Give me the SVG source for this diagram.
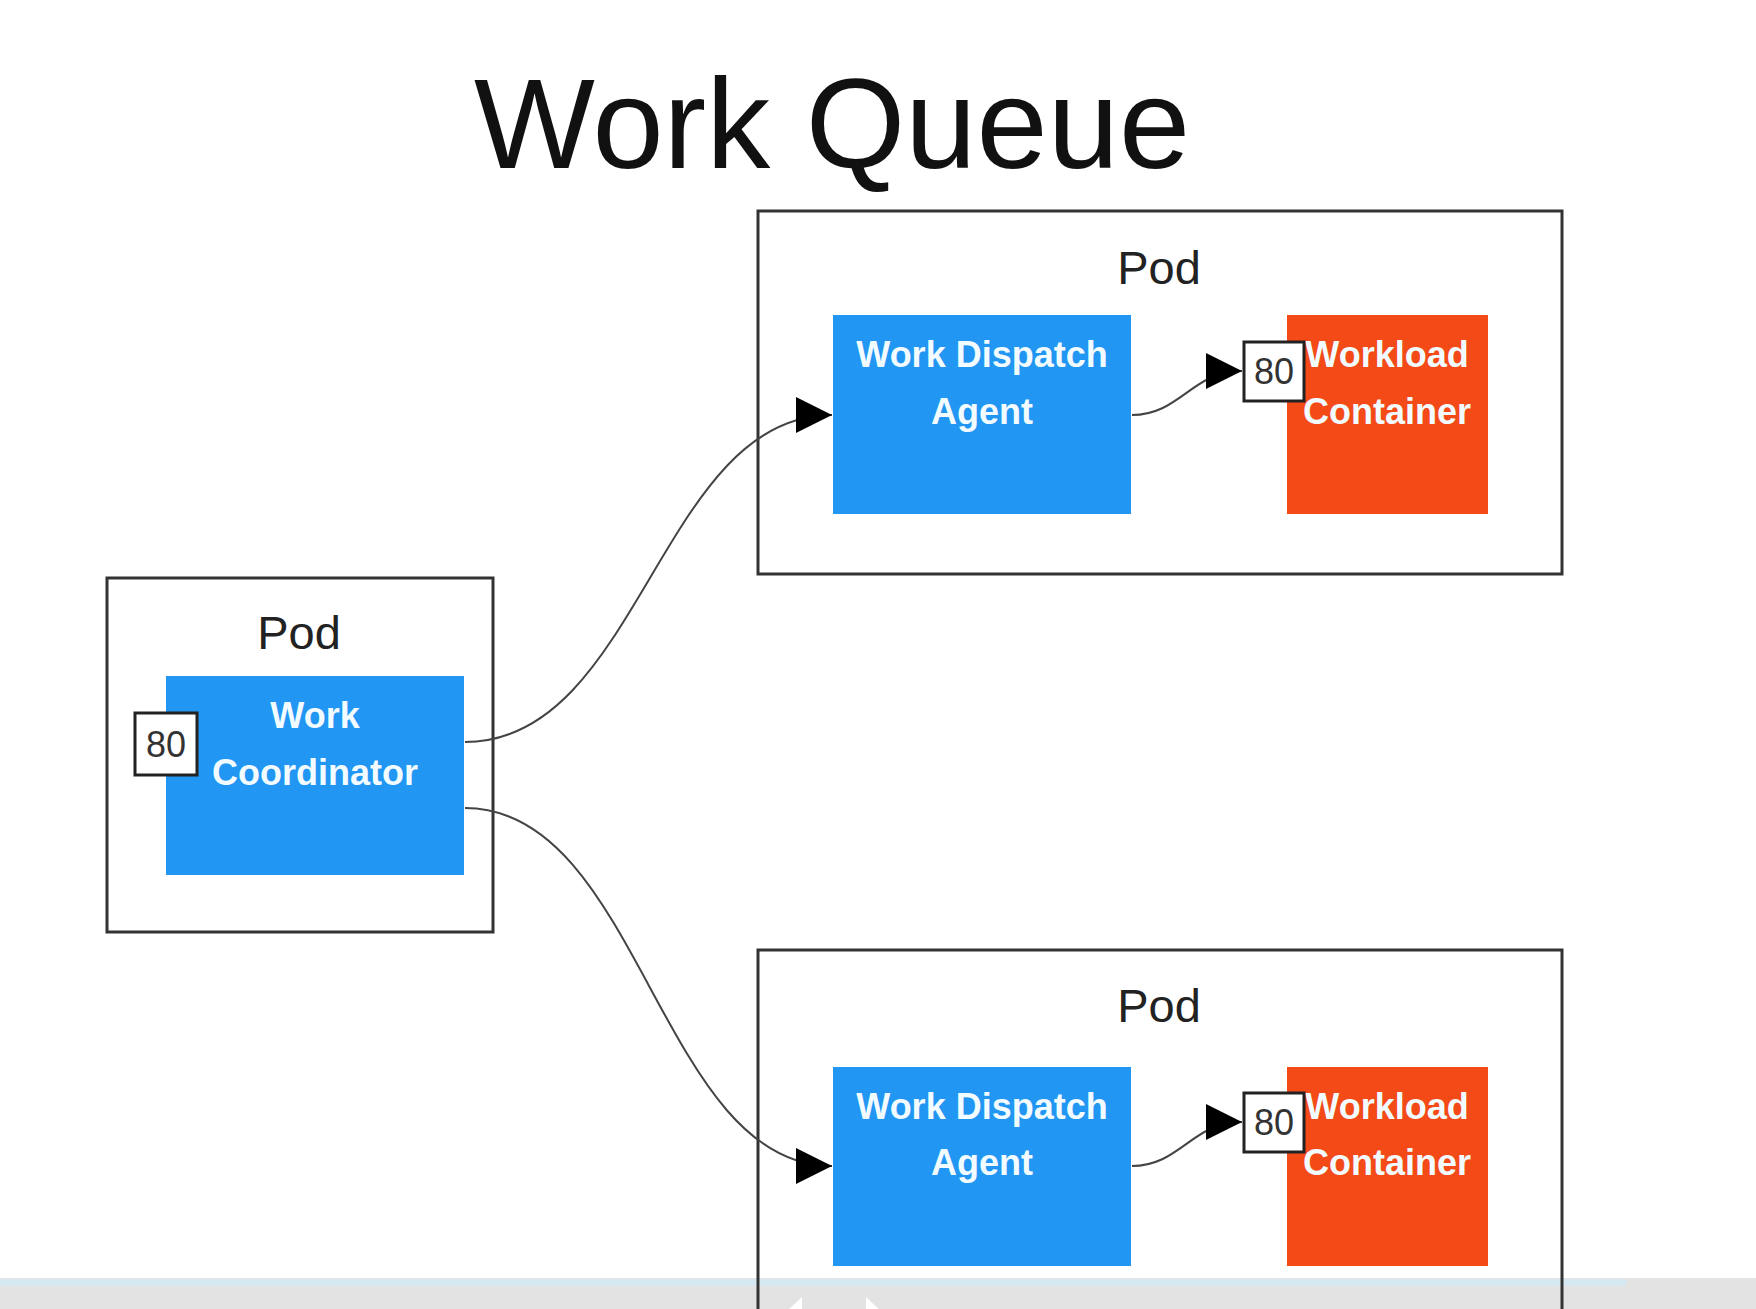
<svg xmlns="http://www.w3.org/2000/svg" width="1756" height="1309" viewBox="0 0 1756 1309">
  <style>
    .pod { fill: none; stroke: #333; stroke-width: 3; }
    .pl { font-family: "Liberation Sans", Arial, sans-serif; font-size: 47px; fill: #222; text-anchor: middle; }
    .blue { fill: #2196F3; }
    .orange { fill: #F44A17; }
    .bt { font-family: "Liberation Sans", Arial, sans-serif; font-weight: bold; font-size: 36px; fill: #f2fbff; text-anchor: middle; }
    .port { fill: #fff; stroke: #222; stroke-width: 3; }
    .pt { font-family: "Liberation Sans", Arial, sans-serif; font-size: 36px; fill: #333; text-anchor: middle; }
    .conn { fill: none; stroke: #444; stroke-width: 2; marker-end: url(#arrow); }
  </style>
  <defs>
    <marker id="arrow" markerUnits="userSpaceOnUse" markerWidth="36" markerHeight="36" refX="36" refY="18" orient="auto">
      <path d="M0,0 L36,18 L0,36 z" fill="#000"/>
    </marker>
  </defs>
  <rect x="0" y="0" width="1756" height="1309" fill="#fff"/>
  <g id="bottom-bar">
    <rect x="0" y="1278" width="1756" height="31" fill="#e3e3e3"/>
    <rect x="0" y="1279" width="1626" height="7" fill="#d6e9f2"/>
    <polygon points="802,1297 786,1312 802,1327" fill="#fff"/>
    <polygon points="866,1297 882,1312 866,1327" fill="#fff"/>
  </g>
  <text id="title" x="832" y="168" font-family="Liberation Sans, Arial, sans-serif" font-size="128" fill="#111" text-anchor="middle">Work Queue</text>

  <g id="pod-coordinator">
    <rect class="pod" x="107" y="578" width="386" height="354"/>
    <text class="pl" x="299" y="649">Pod</text>
  </g>
  <g id="work-coordinator">
    <rect class="blue" x="166" y="676" width="298" height="199"/>
    <text class="bt" x="315" y="728">Work</text>
    <text class="bt" x="315" y="785">Coordinator</text>
  </g>
  <g id="port-coordinator">
    <rect class="port" x="135" y="713" width="62" height="62"/>
    <text class="pt" x="166" y="757">80</text>
  </g>

  <g id="pod-top">
    <rect class="pod" x="758" y="211" width="804" height="363"/>
    <text class="pl" x="1159" y="284">Pod</text>
  </g>
  <g id="agent-top">
    <rect class="blue" x="833" y="315" width="298" height="199"/>
    <text class="bt" x="982" y="367">Work Dispatch</text>
    <text class="bt" x="982" y="424">Agent</text>
  </g>
  <g id="workload-top">
    <rect class="orange" x="1287" y="315" width="201" height="199"/>
    <text class="bt" x="1387" y="367">Workload</text>
    <text class="bt" x="1387" y="424">Container</text>
  </g>
  <g id="port-top">
    <rect class="port" x="1244" y="342" width="60" height="59"/>
    <text class="pt" x="1274" y="384">80</text>
  </g>

  <g id="pod-bottom">
    <rect class="pod" x="758" y="950" width="804" height="420"/>
    <text class="pl" x="1159" y="1022">Pod</text>
  </g>
  <g id="agent-bottom">
    <rect class="blue" x="833" y="1067" width="298" height="199"/>
    <text class="bt" x="982" y="1119">Work Dispatch</text>
    <text class="bt" x="982" y="1175">Agent</text>
  </g>
  <g id="workload-bottom">
    <rect class="orange" x="1287" y="1067" width="201" height="199"/>
    <text class="bt" x="1387" y="1119">Workload</text>
    <text class="bt" x="1387" y="1175">Container</text>
  </g>
  <g id="port-bottom">
    <rect class="port" x="1244" y="1093" width="60" height="59"/>
    <text class="pt" x="1274" y="1135">80</text>
  </g>

  <g id="connectors">
    <path class="conn" d="M465,742 C640,742 660,415 832,415"/>
    <path class="conn" d="M465,808 C640,808 660,1166 832,1166"/>
    <path class="conn" d="M1132,415 C1180,415 1192,371 1242,371"/>
    <path class="conn" d="M1132,1166 C1180,1166 1192,1122 1242,1122"/>
  </g>
</svg>
